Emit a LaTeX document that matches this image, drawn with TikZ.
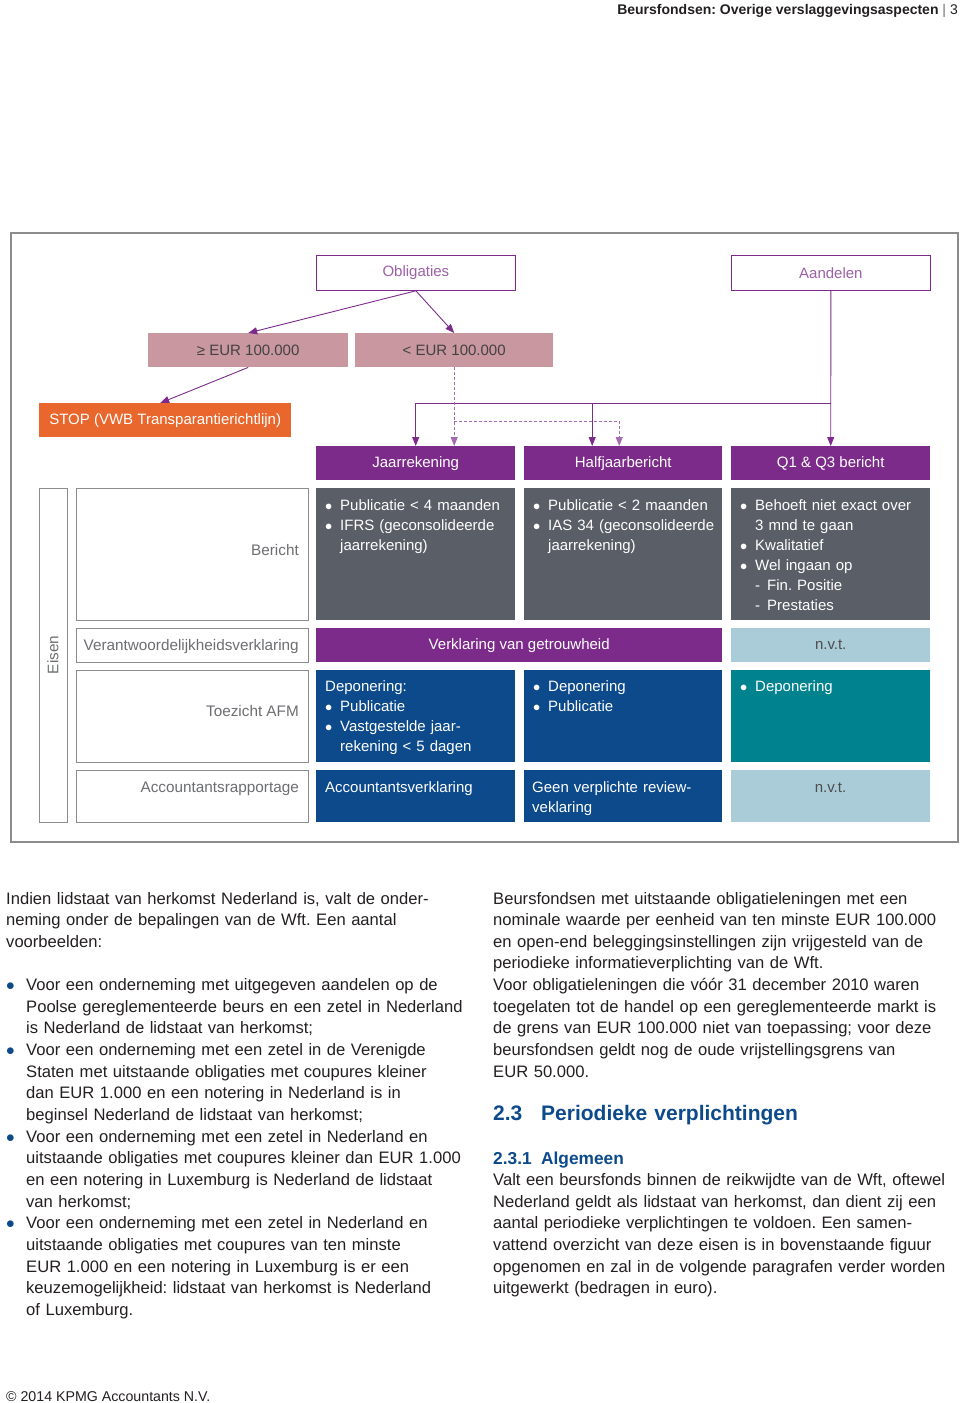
\documentclass[tikz,border=0pt]{standalone}
\usepackage{fontspec}
\setmainfont{Liberation Sans}
\usetikzlibrary{arrows.meta}
\frenchspacing
\definecolor{kpurple}{HTML}{7D2B8B}
\definecolor{kpink}{HTML}{C8979F}
\definecolor{korange}{HTML}{E9662C}
\definecolor{kgrey}{HTML}{5A5E66}
\definecolor{kblue}{HTML}{0C4A8B}
\definecolor{kteal}{HTML}{00828F}
\definecolor{klight}{HTML}{A9CCD8}
\definecolor{kframe}{HTML}{8C8C8C}
\definecolor{klabel}{HTML}{6D6E71}
\definecolor{ktext}{HTML}{231F20}

\begin{document}
\begin{tikzpicture}[x=1pt,y=-1pt,
    cellbox/.style={anchor=north west,inner sep=0pt,minimum width=199pt},
    hdrbox/.style={cellbox,fill=kpurple,text=white,minimum height=34pt,font=\fontsize{15}{18}\selectfont},
    wbox/.style={cellbox,draw=kframe,line width=0.8pt,fill=white},
    lbltext/.style={inner sep=0pt,text=klabel,font=\fontsize{15.3}{18}\selectfont},
    celltext/.style={anchor=base west,inner sep=0pt,text=white,align=left,text width=188pt,font=\fontsize{15}{20}\selectfont},
    bodytext/.style={anchor=base west,inner sep=0pt,text=ktext,align=left,text width=470pt,font=\fontsize{16.6}{21.65}\selectfont},
    conn/.style={draw=kpurple,line width=0.9pt},
    arr/.style={-{Triangle[length=9pt,width=7pt]}}
  ]
  \useasboundingbox (0,0) rectangle (960,1403);

  % page head
  \node[anchor=base east,inner sep=0pt,text=ktext,font=\fontsize{14}{17}\selectfont] (pagehead) at (958,14)
    {\textbf{Beursfondsen: Overige verslaggevingsaspecten} {\color{klabel}|} 3};

  % frame of the figure
  \draw[kframe,line width=1.2pt] (11,233) rectangle (958,842);

  % top of the tree
  \node[wbox,draw=kpurple,minimum height=35pt,text=kpurple!75,font=\fontsize{15}{18}\selectfont] (obl) at (316,255) {Obligaties};
  \node[wbox,draw=kpurple,minimum height=35pt,text=kpurple!75,font=\fontsize{15}{18}\selectfont] (aand) at (731,255) {Aandelen};
  \node[cellbox,fill=kpink,minimum width=200pt,minimum height=34pt,text=ktext!85,font=\fontsize{15}{18}\selectfont] (geq) at (148,333) {≥ EUR 100.000};
  \node[cellbox,fill=kpink,minimum width=198pt,minimum height=34pt,text=ktext!85,font=\fontsize{15}{18}\selectfont] (lt) at (355,333) {< EUR 100.000};
  \node[cellbox,fill=korange,minimum width=252pt,minimum height=34pt,text=white,font=\fontsize{15}{18}\selectfont] (stop) at (39,403) {STOP (VWB Transparantierichtlijn)};

  % column heads
  \node[hdrbox] (jr) at (316,446) {Jaarrekening};
  \node[hdrbox,minimum width=198pt] (hj) at (524,446) {Halfjaarbericht};
  \node[hdrbox] (q1) at (731,446) {Q1 \& Q3 bericht};

  % row labels
  \node[wbox,minimum width=28pt,minimum height=334pt] (eisbox) at (39,488) {};
  \node[lbltext,rotate=90] (eisen) at (53,655) {Eisen};
  \node[wbox,minimum width=232pt,minimum height=132pt] (berbox) at (76,488) {};
  \node[wbox,minimum width=232pt,minimum height=34pt] (verbox) at (76,628) {};
  \node[wbox,minimum width=232pt,minimum height=92pt] (toebox) at (76,670) {};
  \node[wbox,minimum width=232pt,minimum height=52pt] (accbox) at (76,770) {};
  \node[lbltext,anchor=base east] (bertxt) at (299,555.5) {Bericht};
  \node[lbltext,anchor=base east] (vertxt) at (299,650.5) {Verantwoordelijkheidsverklaring};
  \node[lbltext,anchor=base east] (toetxt) at (299,716.5) {Toezicht AFM};
  \node[lbltext,anchor=base east] (acctxt) at (299,792.5) {Accountantsrapportage};

  % Bericht
  \node[cellbox,fill=kgrey,minimum height=132pt] (jrber) at (316,488) {};
  \node[cellbox,fill=kgrey,minimum width=198pt,minimum height=132pt] (hjber) at (524,488) {};
  \node[cellbox,fill=kgrey,minimum height=132pt] (q1ber) at (731,488) {};
  \node[celltext] (jrbertxt) at (325,510.5)
    {\makebox[15pt][l]{$\bullet$}Publicatie < 4 maanden\\\makebox[15pt][l]{$\bullet$}IFRS (geconsolideerde\\\hspace*{15pt}jaarrekening)};
  \node[celltext] (hjbertxt) at (533,510.5)
    {\makebox[15pt][l]{$\bullet$}Publicatie < 2 maanden\\\makebox[15pt][l]{$\bullet$}IAS 34 (geconsolideerde\\\hspace*{15pt}jaarrekening)};
  \node[celltext] (q1bertxt) at (740,510.5)
    {\makebox[15pt][l]{$\bullet$}Behoeft niet exact over\\\hspace*{15pt}3 mnd te gaan\\\makebox[15pt][l]{$\bullet$}Kwalitatief\\\makebox[15pt][l]{$\bullet$}Wel ingaan op\\\hspace*{15pt}\makebox[12pt][l]{-}Fin. Positie\\\hspace*{15pt}\makebox[12pt][l]{-}Prestaties};

  % Verantwoordelijkheidsverklaring
  \node[cellbox,fill=kpurple,minimum width=406pt,minimum height=34pt,text=white,font=\fontsize{15}{18}\selectfont] (getrouw) at (316,628) {Verklaring van getrouwheid};
  \node[cellbox,fill=klight,minimum height=34pt,text=ktext!80,font=\fontsize{15}{18}\selectfont] (q1ver) at (731,628) {n.v.t.};

  % Toezicht AFM
  \node[cellbox,fill=kblue,minimum height=92pt] (jrtoe) at (316,670) {};
  \node[cellbox,fill=kblue,minimum width=198pt,minimum height=92pt] (hjtoe) at (524,670) {};
  \node[cellbox,fill=kteal,minimum height=92pt] (q1toe) at (731,670) {};
  \node[celltext] (jrtoetxt) at (325,691.5)
    {Deponering:\\\makebox[15pt][l]{$\bullet$}Publicatie\\\makebox[15pt][l]{$\bullet$}Vastgestelde jaar-\\\hspace*{15pt}rekening < 5 dagen};
  \node[celltext] (hjtoetxt) at (533,691.5)
    {\makebox[15pt][l]{$\bullet$}Deponering\\\makebox[15pt][l]{$\bullet$}Publicatie};
  \node[celltext] (q1toetxt) at (740,691.5)
    {\makebox[15pt][l]{$\bullet$}Deponering};

  % Accountantsrapportage
  \node[cellbox,fill=kblue,minimum height=52pt] (jracc) at (316,770) {};
  \node[cellbox,fill=kblue,minimum width=198pt,minimum height=52pt] (hjacc) at (524,770) {};
  \node[cellbox,fill=klight,minimum height=52pt] (q1acc) at (731,770) {};
  \node[celltext] (jracctxt) at (325,792.5) {Accountantsverklaring};
  \node[celltext] (hjacctxt) at (532,792.5) {Geen verplichte review-\\veklaring};
  \node[anchor=base,inner sep=0pt,text=ktext!80,font=\fontsize{15}{18}\selectfont] (q1acctxt) at (830.5,792.5) {n.v.t.};

  % connectors
  \coordinate (busY) at (0,403);
  \coordinate (dashY) at (0,421);
  \coordinate (hjL) at ([xshift=-31pt]hj.north);
  \coordinate (hjR) at ([xshift=-4pt]hj.north);
  \draw[conn,arr] (obl.south) -- (geq.north);
  \draw[conn,arr] (obl.south) -- (lt.north);
  \draw[conn,arr] (geq.south) -- ([xshift=-5pt]stop.north);
  \draw[conn] (aand.south |- busY) -- (jr.north |- busY);
  \draw[conn,arr] (aand.south) -- (q1.north);
  \draw[conn,arr] (jr.north |- busY) -- (jr.north);
  \draw[conn,arr] (hjL |- busY) -- (hjL);
  \draw[conn,kpurple!70,dash pattern=on 3pt off 2pt,arr] (lt.south) -- (lt.south |- jr.north);
  \draw[conn,kpurple!70,dash pattern=on 3pt off 2pt,arr] (lt.south |- dashY) -| (hjR);

  % text below the figure
  \node[bodytext] (introtxt) at (6,904)
    {Indien lidstaat van herkomst Nederland is, valt de onder-\\neming onder de bepalingen van de Wft. Een aantal\\voorbeelden:};
  \node[bodytext] (exlist) at (6,990.6)
    {\makebox[20pt][l]{\textcolor{kblue}{$\bullet$}}Voor een onderneming met uitgegeven aandelen op de\\
     \hspace*{20pt}Poolse gereglementeerde beurs en een zetel in Nederland\\
     \hspace*{20pt}is Nederland de lidstaat van herkomst;\\
     \makebox[20pt][l]{\textcolor{kblue}{$\bullet$}}Voor een onderneming met een zetel in de Verenigde\\
     \hspace*{20pt}Staten met uitstaande obligaties met coupures kleiner\\
     \hspace*{20pt}dan EUR 1.000 en een notering in Nederland is in\\
     \hspace*{20pt}beginsel Nederland de lidstaat van herkomst;\\
     \makebox[20pt][l]{\textcolor{kblue}{$\bullet$}}Voor een onderneming met een zetel in Nederland en\\
     \hspace*{20pt}uitstaande obligaties met coupures kleiner dan EUR 1.000\\
     \hspace*{20pt}en een notering in Luxemburg is Nederland de lidstaat\\
     \hspace*{20pt}van herkomst;\\
     \makebox[20pt][l]{\textcolor{kblue}{$\bullet$}}Voor een onderneming met een zetel in Nederland en\\
     \hspace*{20pt}uitstaande obligaties met coupures van ten minste\\
     \hspace*{20pt}EUR 1.000 en een notering in Luxemburg is er een\\
     \hspace*{20pt}keuzemogelijkheid: lidstaat van herkomst is Nederland\\
     \hspace*{20pt}of Luxemburg.};
  \node[bodytext,text width=462pt] (vrijtxt) at (493,904)
    {Beursfondsen met uitstaande obligatieleningen met een\\
     nominale waarde per eenheid van ten minste EUR 100.000\\
     en open-end beleggingsinstellingen zijn vrijgesteld van de\\
     periodieke informatieverplichting van de Wft.\\
     Voor obligatieleningen die vóór 31 december 2010 waren\\
     toegelaten tot de handel op een gereglementeerde markt is\\
     de grens van EUR 100.000 niet van toepassing; voor deze\\
     beursfondsen geldt nog de oude vrijstellingsgrens van\\
     EUR 50.000.};
  \node[bodytext,text=kblue,font=\fontsize{21}{22}\selectfont\bfseries] (sec23) at (493,1120.5)
    {\makebox[48pt][l]{2.3}Periodieke verplichtingen};
  \node[bodytext,text=kblue,font=\fontsize{17.3}{20}\selectfont\bfseries] (sec231) at (493,1164)
    {\makebox[48pt][l]{2.3.1}Algemeen};
  \node[bodytext,text width=462pt] (algtxt) at (493,1185.5)
    {Valt een beursfonds binnen de reikwijdte van de Wft, oftewel\\
     Nederland geldt als lidstaat van herkomst, dan dient zij een\\
     aantal periodieke verplichtingen te voldoen. Een samen-\\
     vattend overzicht van deze eisen is in bovenstaande figuur\\
     opgenomen en zal in de volgende paragrafen verder worden\\
     uitgewerkt (bedragen in euro).};

  % footer
  \node[anchor=base west,inner sep=0pt,text=ktext,font=\fontsize{14.2}{17}\selectfont] (foot) at (6,1401)
    {© 2014 KPMG Accountants N.V.};
\end{tikzpicture}
\end{document}
